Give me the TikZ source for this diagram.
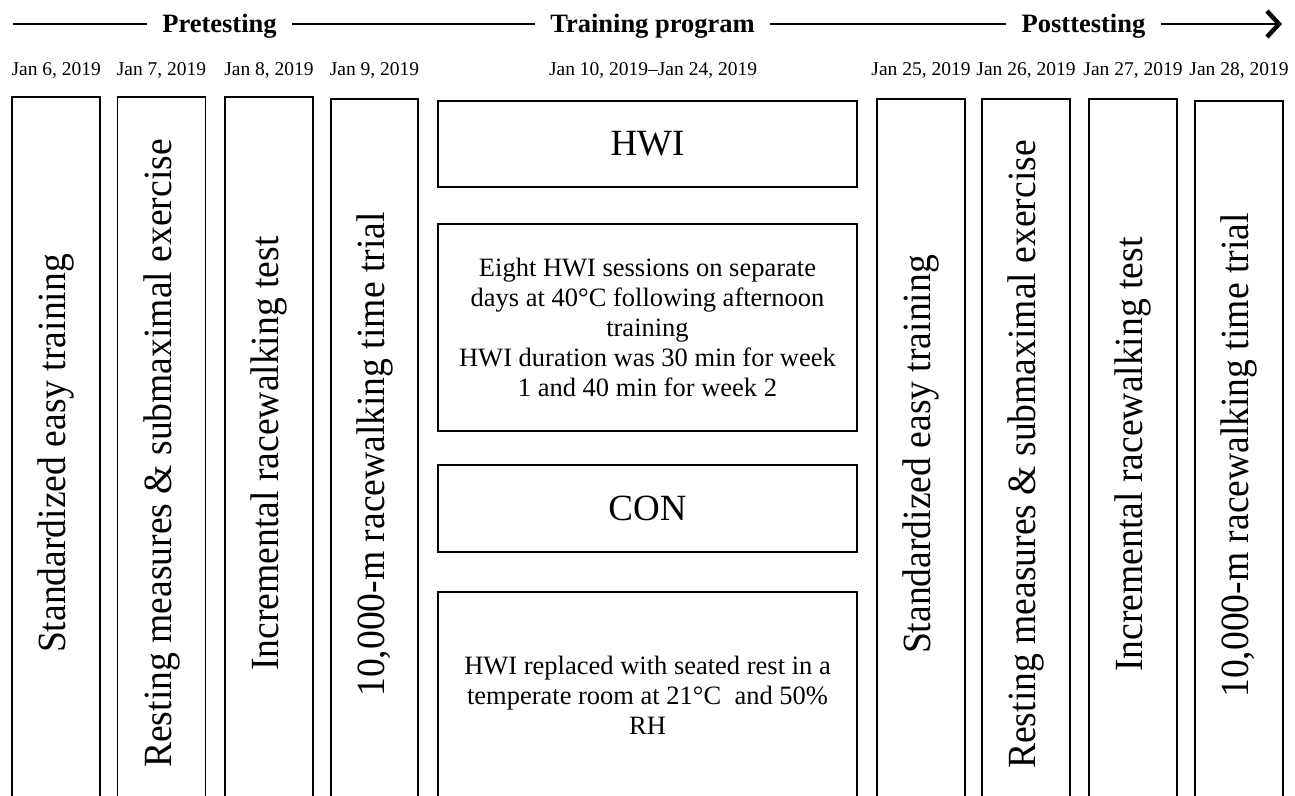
\documentclass[tikz,border=0pt]{standalone}
\usepackage{fontspec}
\setmainfont{Liberation Serif}
\newfontfamily\vfont[FakeStretch=0.94]{Liberation Serif}
\usetikzlibrary{arrows.meta}
\begin{document}
\begin{tikzpicture}[x=1pt,y=-1pt,
  vbox/.style={draw, line width=1.6pt, rotate=90, minimum height=88pt, inner sep=0pt,
    font=\vfont\fontsize{40}{46}\selectfont},
  mbox/.style={draw, line width=1.6pt, minimum width=419pt, inner sep=0pt, align=center},
  bigtxt/.style={font=\fontsize{37}{42}\selectfont},
  smalltxt/.style={font=\fontsize{26.5}{30}\selectfont},
  datetxt/.style={anchor=base, inner sep=0pt, font=\fontsize{19.5}{22}\selectfont},
  phase/.style={anchor=base, inner xsep=15pt, inner ysep=0pt, font=\bfseries\fontsize{26.5}{30}\selectfont},
  rule/.style={line width=1.5pt}]
\useasboundingbox (0,0) rectangle (1295,795);

% phase headers
\node[phase] (pre) at (219.5,32) {Pretesting};
\node[phase] (train) at (652.5,32) {Training program};
\node[phase] (post) at (1083.5,32) {Posttesting};
\coordinate (ls) at (13,24);
\coordinate (le) at (1282,24);
\draw[rule] (ls) -- (ls -| pre.west);
\draw[rule] (pre.east |- ls) -- (ls -| train.west);
\draw[rule] (train.east |- ls) -- (ls -| post.west);
\draw[rule, -{Straight Barb[length=12pt,width=26pt,line width=4.5pt]}] (post.east |- ls) -- (le);

% dates
\node[datetxt] (d1) at (56.25,75) {Jan 6, 2019};
\node[datetxt] (d2) at (161.5,75) {Jan 7, 2019};
\node[datetxt] (d3) at (269,75) {Jan 8, 2019};
\node[datetxt] (d4) at (374.5,75) {Jan 9, 2019};
\node[datetxt] (dm) at (653,75) {Jan 10, 2019--Jan 24, 2019};
\node[datetxt] (d5) at (921,75) {Jan 25, 2019};
\node[datetxt] (d6) at (1026,75) {Jan 26, 2019};
\node[datetxt] (d7) at (1133,75) {Jan 27, 2019};
\node[datetxt] (d8) at (1239,75) {Jan 28, 2019};

% vertical boxes (open below the page edge)
\node[vbox, minimum width=713pt] (b1) at (56.25,453.5) {Standardized easy training};
\node[vbox, minimum width=713pt] (b2) at (161.5,453.5) {Resting measures \& submaximal exercise};
\node[vbox, minimum width=713pt] (b3) at (269,453.5) {Incremental racewalking test};
\node[vbox, minimum width=711pt, minimum height=87pt] (b4) at (374.5,454.5) {10,000-m racewalking time trial};
\node[vbox, minimum width=711pt] (b5) at (921,454.5) {Standardized easy training};
\node[vbox, minimum width=711pt] (b6) at (1026,454.5) {Resting measures \& submaximal exercise};
\node[vbox, minimum width=711pt] (b7) at (1133,454.5) {Incremental racewalking test};
\node[vbox, minimum width=709pt] (b8) at (1239,455.5) {10,000-m racewalking time trial};

% training program column
\node[mbox, bigtxt, minimum height=86pt] (hwi) at (647.5,144) {HWI};
\node[mbox, smalltxt, minimum height=207pt] (hwid) at (647.5,327.5)
  {Eight HWI sessions on separate\\days at 40°C following afternoon\\training\\HWI duration was 30 min for week\\1 and 40 min for week 2};
\node[mbox, bigtxt, minimum height=87pt] (con) at (647.5,508.5) {CON};
\node[mbox, smalltxt, minimum height=206pt] (cond) at (647.5,695)
  {HWI replaced with seated rest in a\\temperate room at 21°C\ \ and 50\%\\RH};
\end{tikzpicture}
\end{document}
